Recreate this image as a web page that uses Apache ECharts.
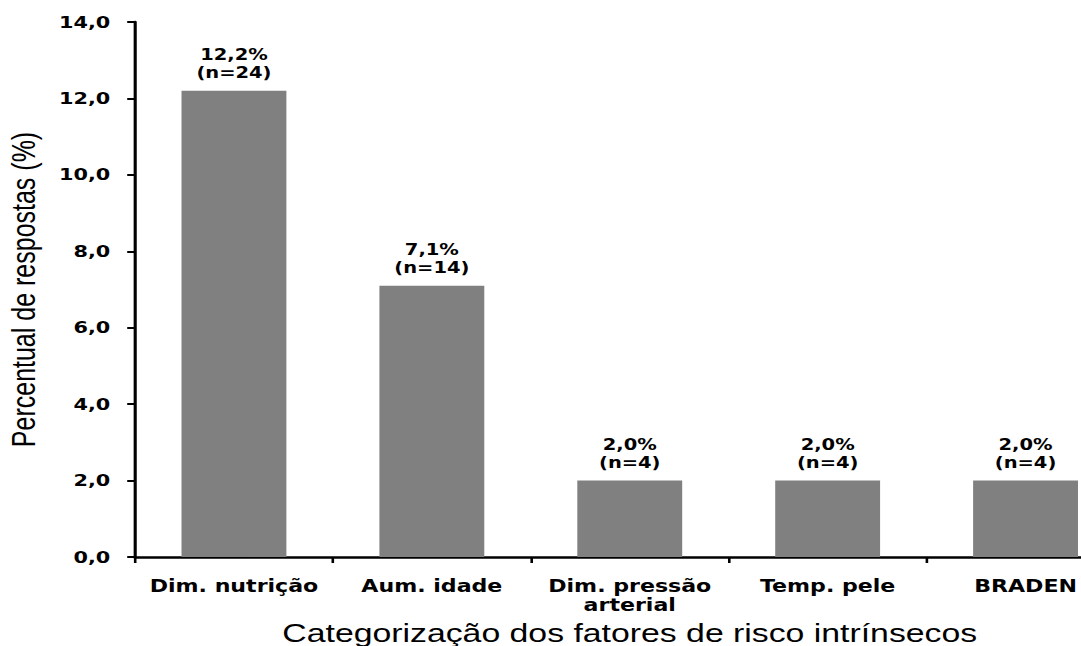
<!DOCTYPE html>
<html>
<head>
<meta charset="utf-8">
<script src="https://cdn.jsdelivr.net/npm/echarts@6/dist/echarts.min.js"></script>
<style>
  html, body { margin: 0; padding: 0; background: #ffffff; overflow: hidden; }
  #wrap { width: 1081px; height: 646px; overflow: hidden; position: relative; }
  #chart { position: absolute; left: 0; top: 0; height: 646px; transform-origin: 0 0; }
</style>
</head>
<body>
<div id="wrap"><div id="chart"></div></div>
<script>
// Categories of intrinsic risk factors
const categories = ['Dim. nutrição', 'Aum. idade', 'Dim. pressão\narterial', 'Temp. pele', 'BRADEN'];
// Share of answers (%) and absolute counts
const percentages = [12.2, 7.1, 2.0, 2.0, 2.0];
const counts = [24, 14, 4, 4, 4];
// Value axis range
const yMin = 0;
const yMax = 14;
const yStep = 2;

// The drawing is laid out in a narrower frame and widened horizontally
const SX = 1.3;
const W = 1081 / SX;
const el = document.getElementById('chart');
el.style.width = W + 'px';
el.style.transform = 'scaleX(' + SX + ')';

const fmt = v => Number(v).toFixed(1).replace('.', ',');
const boldFont = '"DejaVu Sans", Verdana, sans-serif';
const plainFont = '"Liberation Sans", Arial, sans-serif';

const chart = echarts.init(el, null, { renderer: 'svg' });
const cw = chart.getWidth();
chart.setOption({
  backgroundColor: '#ffffff',
  animation: false,
  grid: {
    left: 135 / SX, right: cw - 1124.5 / SX, top: 22, bottom: 89,
    containLabel: false, outerBoundsMode: 'none'
  },
  xAxis: {
    type: 'category',
    data: categories,
    boundaryGap: true,
    name: 'Categorização dos fatores de risco intrínsecos',
    nameLocation: 'middle',
    nameGap: 60,
    nameTextStyle: { fontFamily: plainFont, fontSize: 26, color: '#000' },
    axisLine: { lineStyle: { color: '#000', width: 2.5 } },
    axisTick: { show: true, alignWithLabel: false, length: 6, lineStyle: { color: '#000', width: 2 } },
    axisLabel: {
      interval: 0, margin: 20, fontFamily: boldFont, fontWeight: 'bold',
      fontSize: 17, lineHeight: 19, color: '#000'
    },
    splitLine: { show: false }
  },
  yAxis: {
    type: 'value',
    min: yMin, max: yMax, interval: yStep,
    name: 'Percentual de respostas (%)',
    nameLocation: 'middle',
    nameGap: 73,
    nameRotate: 90,
    nameTextStyle: { fontFamily: plainFont, fontSize: 25, color: '#000' },
    axisLine: { show: true, lineStyle: { color: '#000', width: 2.4 } },
    axisTick: { show: true, length: 6, lineStyle: { color: '#000', width: 2 } },
    axisLabel: {
      formatter: fmt, margin: 19, fontFamily: boldFont, fontWeight: 'bold',
      fontSize: 16, color: '#000'
    },
    splitLine: { show: false }
  },
  series: [{
    type: 'bar',
    data: percentages,
    barWidth: '53%',
    itemStyle: { color: '#808080' },
    label: {
      show: true,
      position: 'top',
      distance: 9,
      fontFamily: boldFont,
      fontWeight: 'bold',
      fontSize: 15,
      lineHeight: 18,
      color: '#000',
      formatter: p => fmt(p.value) + '%\n(n=' + counts[p.dataIndex] + ')'
    }
  }]
});
</script>
</body>
</html>
